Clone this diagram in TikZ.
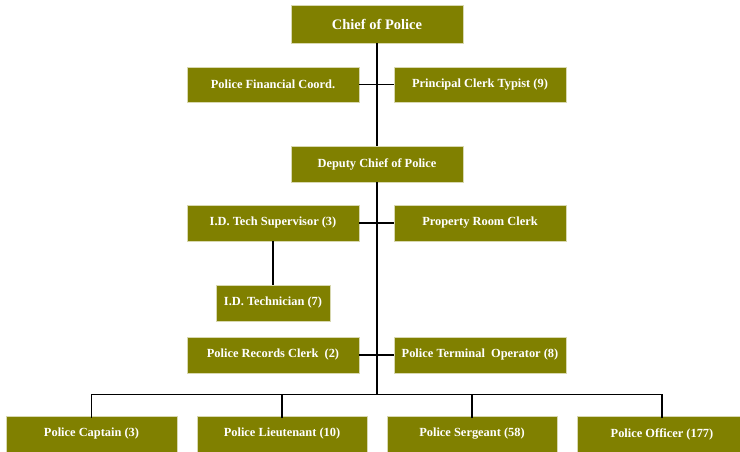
\documentclass[tikz,border=0pt]{standalone}
\usepackage{fontspec}
\setmainfont{Liberation Serif}
\definecolor{boxol}{HTML}{808000}
\definecolor{boxedge}{HTML}{D8D8B0}
\begin{document}
\begin{tikzpicture}[x=1pt,y=-1pt,
  box/.style={rectangle, fill=boxol, draw=boxedge, line width=0.4pt, inner sep=0pt, outer sep=0pt,
    minimum width=172pt, minimum height=36pt, text=white, font=\bfseries\fontsize{12.4}{14}\selectfont},
  main/.style={black, line width=1.8pt},
  conn/.style={black, line width=1.3pt}]
\useasboundingbox (0,0) rectangle (740,451);
\node[box, minimum height=38pt, font=\bfseries\fontsize{14.5}{16}\selectfont] (chief) at (377,24) {Chief of Police};
\node[box, minimum height=35pt] (fin) at (273,84.5) {Police Financial Coord.};
\node[box, minimum height=35pt] (clerk) at (480,84.5) {Principal Clerk Typist (9)};
\node[box] (deputy) at (377,164) {Deputy Chief of Police};
\node[box] (sup) at (273,223) {I.D. Tech Supervisor (3)};
\node[box] (prop) at (480,223) {Property Room Clerk};
\node[box, minimum width=114pt] (tech) at (273,302.7) {I.D. Technician (7)};
\node[box] (records) at (273,355) {Police Records Clerk~~(2)};
\node[box] (term) at (480,355) {Police Terminal~~Operator (8)};
\node[box, minimum width=171pt] (captain) at (91.5,434) {Police Captain (3)};
\node[box, minimum width=170pt] (lieut) at (282,434) {Police Lieutenant (10)};
\node[box, minimum width=170pt] (serg) at (472,434) {Police Sergeant (58)};
\node[box, minimum width=170pt] (officer) at (662,434) {Police Officer (177)};
\coordinate (bus) at (377,394.5);
\draw[main] (chief.south) -- (deputy.north);
\draw[main] (deputy.south) -- (bus);
\draw[conn] (fin.east) -- (clerk.west);
\draw[conn] (sup.east) -- (prop.west);
\draw[conn] (records.east) -- (term.west);
\draw[conn] (sup.south) -- (tech.north);
\draw[conn] ([yshift=-1.5pt]captain.north) |- (bus) -| ([yshift=-1.5pt]officer.north);
\draw[conn] ([yshift=-1.5pt]lieut.north) -- (lieut.north |- bus);
\draw[conn] ([yshift=-1.5pt]serg.north) -- (serg.north |- bus);
\end{tikzpicture}
\end{document}
